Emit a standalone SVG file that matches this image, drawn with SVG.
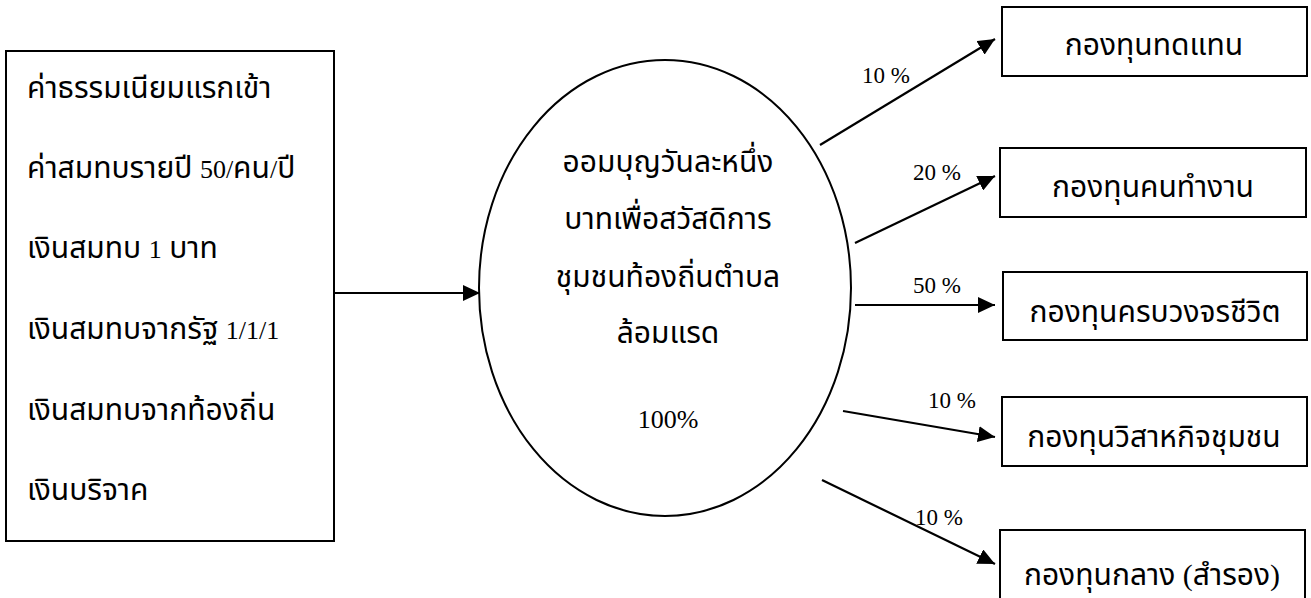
<svg xmlns="http://www.w3.org/2000/svg" width="1311" height="598" viewBox="0 0 1311 598">
<style>
.box{fill:#fff;stroke:#000;stroke-width:2}
.t{font-family:"Liberation Serif","Noto Sans Thai","Noto Serif Thai",serif;font-size:30px;fill:#000}
.n{font-size:26px}
.c{text-anchor:middle}
.lbl{font-family:"Liberation Serif",serif;font-size:23px;fill:#000}
.ln{stroke:#000;stroke-width:2.2;fill:none;marker-end:url(#ah)}
</style>
<defs>
<marker id="ah" markerWidth="17" markerHeight="16" refX="17" refY="8" orient="auto" markerUnits="userSpaceOnUse">
<path d="M0,0 L17,8 L0,16 Z" fill="#000"/>
</marker>
</defs>
<rect width="1311" height="598" fill="#fff"/>
<g id="sources">
<rect class="box" x="6" y="51" width="328" height="490"/>
<text class="t" x="27" y="98">ค่าธรรมเนียมแรกเข้า</text>
<text class="t" x="27" y="178">ค่าสมทบรายปี <tspan class="n">50/</tspan>คน<tspan class="n">/</tspan>ปี</text>
<text class="t" x="27" y="258">เงินสมทบ <tspan class="n">1</tspan> บาท</text>
<text class="t" x="27" y="339">เงินสมทบจากรัฐ <tspan class="n">1/1/1</tspan></text>
<text class="t" x="27" y="420">เงินสมทบจากท้องถิ่น</text>
<text class="t" x="27" y="500">เงินบริจาค</text>
</g>
<g id="center">
<ellipse cx="665" cy="288" rx="186" ry="228" fill="#fff" stroke="#000" stroke-width="2"/>
<text class="t c" x="668" y="172">ออมบุญวันละหนึ่ง</text>
<text class="t c" x="668" y="229">บาทเพื่อสวัสดิการ</text>
<text class="t c" x="668" y="287">ชุมชนท้องถิ่นตำบล</text>
<text class="t c" x="668" y="343">ล้อมแรด</text>
<text class="t c n" x="668" y="428">100%</text>
</g>
<g id="fund1">
<rect class="box" x="1002" y="7" width="305" height="69"/>
<text class="t c" x="1154" y="55">กองทุนทดแทน</text>
</g>
<g id="fund2">
<rect class="box" x="1000" y="148" width="306" height="69"/>
<text class="t c" x="1153" y="197">กองทุนคนทำงาน</text>
</g>
<g id="fund3">
<rect class="box" x="1003" y="272" width="304" height="68"/>
<text class="t c" x="1155" y="322">กองทุนครบวงจรชีวิต</text>
</g>
<g id="fund4">
<rect class="box" x="1002" y="397" width="305" height="69"/>
<text class="t c" x="1154" y="447">กองทุนวิสาหกิจชุมชน</text>
</g>
<g id="fund5">
<rect class="box" x="1000" y="530" width="305" height="70"/>
<text class="t c" x="1152" y="585">กองทุนกลาง (สำรอง)</text>
</g>
<g id="connectors">
<line class="ln" x1="334" y1="293" x2="480" y2="293"/>
<line class="ln" x1="820" y1="145" x2="995" y2="39"/>
<line class="ln" x1="855" y1="243" x2="995" y2="176"/>
<line class="ln" x1="855" y1="305" x2="995" y2="305"/>
<line class="ln" x1="843" y1="411" x2="995" y2="437"/>
<line class="ln" x1="822" y1="480" x2="995" y2="564"/>
<text class="lbl" x="862" y="83">10 %</text>
<text class="lbl" x="913" y="180">20 %</text>
<text class="lbl" x="913" y="293">50 %</text>
<text class="lbl" x="928" y="408">10 %</text>
<text class="lbl" x="915" y="525">10 %</text>
</g>
</svg>
